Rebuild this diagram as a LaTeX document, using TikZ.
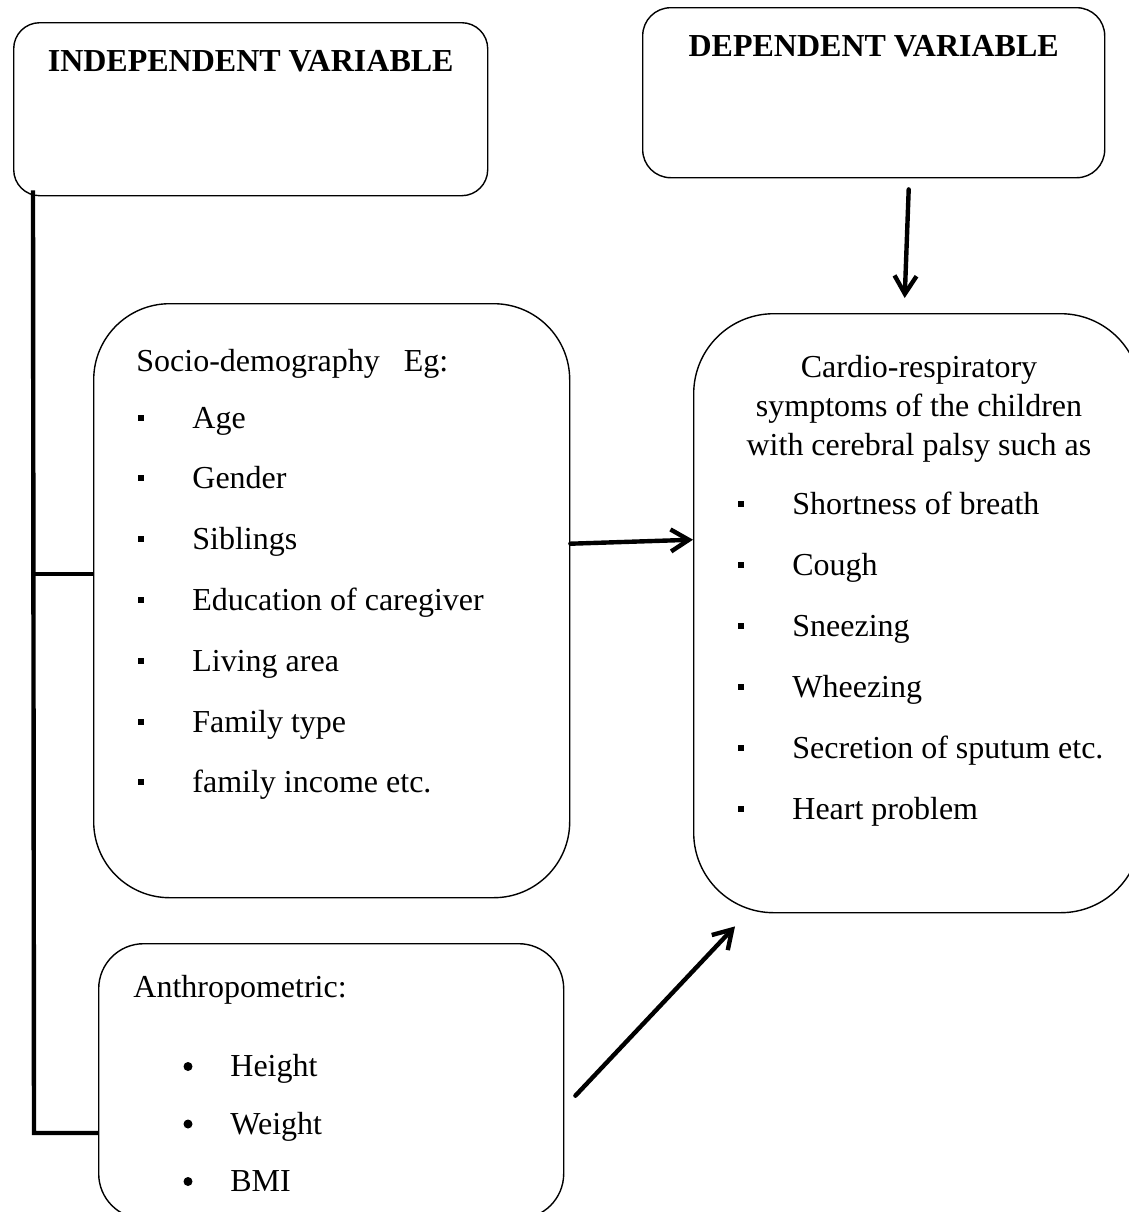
\documentclass[tikz,border=0pt]{standalone}
\usepackage{fontspec}
\setmainfont{Liberation Serif}
\usepackage{tikz}
\usetikzlibrary{positioning,calc,arrows.meta}

\begin{document}
\begin{tikzpicture}[x=0.5pt, y=-0.5pt,
    box/.style={draw, line width=0.7pt, rounded corners=#1, anchor=north west, inner sep=0pt},
    title/.style={font=\fontsize{16}{16}\selectfont\bfseries, anchor=base, inner sep=0pt},
    txt/.style={font=\fontsize{16}{16}\selectfont, anchor=base west, inner sep=0pt},
    sqbullet/.style={fill, rectangle, minimum size=3pt, inner sep=0pt},
    dotbullet/.style={fill, circle, minimum size=4.5pt, inner sep=0pt},
    link/.style={line width=2.2pt},
    arr/.style={line width=2.2pt, line cap=round, -{Straight Barb[length=9pt,width=11pt]}}]
    \clip (0,0) rectangle (1129,1212);

    % boxes
    \node[box=13pt, minimum width=237pt, minimum height=86.5pt] (indep) at (13,22) {};
    \node[box=14pt, minimum width=231pt, minimum height=85pt] (dep) at (642,7) {};
    \node[box=38pt, minimum width=238pt, minimum height=297pt] (socio) at (93,303) {};
    \node[box=40pt, minimum width=223.5pt, minimum height=299.5pt] (cardio) at (693,313) {};
    \node[box=22.5pt, minimum width=232.5pt, minimum height=137.5pt] (anthro) at (98,943) {};

    \node[title] (indeptitle) at ([yshift=-24.5pt]indep.north) {INDEPENDENT VARIABLE};
    \node[title] (deptitle) at ([yshift=-24.5pt]dep.north) {DEPENDENT VARIABLE};

    % socio-demography list
    \node[txt] (sociohead) at (136,371) {Socio-demography\hspace{12pt}Eg:};
    \foreach \t [count=\i from 0] in {Age, Gender, Siblings, Education of caregiver, Living area, Family type, family income etc.} {
        \node[sqbullet] (sb\i) at (141,{417.5+60.8*\i}) {};
        \node[txt] (si\i) at (192,{428+60.8*\i}) {\t};
    }

    % cardio-respiratory list
    \node[font=\fontsize{16}{19.5}\selectfont, align=center, anchor=north, inner sep=0pt] (cardiohead) at (919,355)
        {Cardio-respiratory\\symptoms of the children\\with cerebral palsy such as};
    \foreach \t [count=\i from 0] in {Shortness of breath, Cough, Sneezing, Wheezing, Secretion of sputum etc., Heart problem} {
        \node[sqbullet] (cb\i) at (741,{504+61*\i}) {};
        \node[txt] (ci\i) at (792,{514.5+61*\i}) {\t};
    }

    % anthropometric list
    \node[txt] (anthrohead) at (133,997) {Anthropometric:};
    \foreach \t [count=\i from 0] in {Height, Weight, BMI} {
        \node[dotbullet] (ab\i) at (188,{1066.5+57.5*\i}) {};
        \node[txt] (ai\i) at (230,{1076.5+57.5*\i}) {\t};
    }

    % connectors
    \coordinate (trunktop) at ([xshift=10pt,yshift=3pt]indep.south west);
    \coordinate (j1) at (33,574);
    \coordinate (j2) at (34,1133);
    \draw[link] (trunktop) -- (j2) -- (anthro.west |- j2);
    \draw[link] (j1) -- (socio.west |- j1);

    \draw[arr] ([xshift=17.5pt,yshift=-5.5pt]dep.south) -- ([xshift=-6.25pt,yshift=7.5pt]cardio.north);
    \draw[arr] ([yshift=28.5pt]socio.east) -- ([yshift=36.75pt]cardio.west);
    \draw[arr] ([xshift=5.5pt,yshift=-7.25pt]anthro.east) -- ([xshift=21pt,yshift=-6.5pt]cardio.south west);
\end{tikzpicture}
\end{document}
